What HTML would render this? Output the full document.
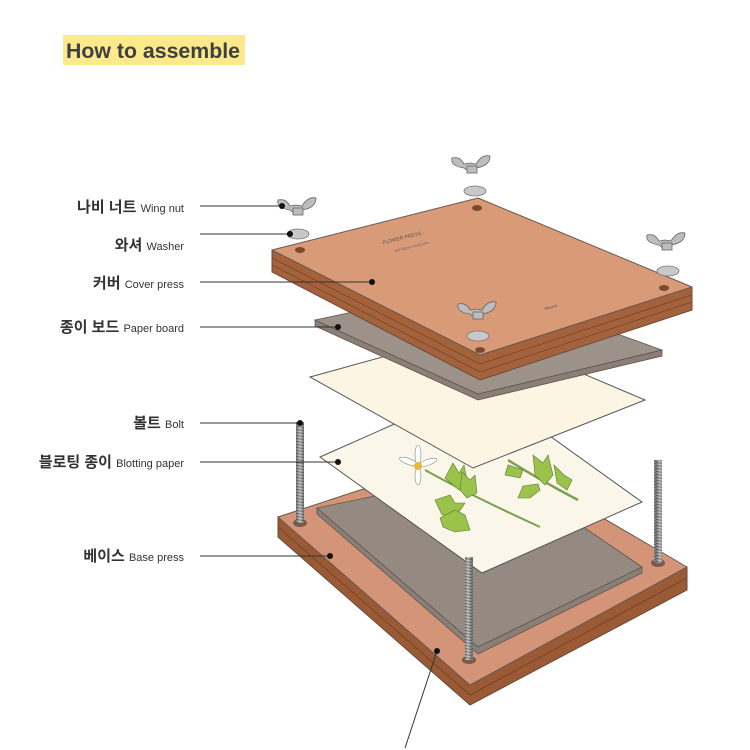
<!DOCTYPE html>
<html><head><meta charset="utf-8"><style>
html,body{margin:0;padding:0;background:#fff;}
body{width:750px;height:750px;overflow:hidden;position:relative;font-family:"Liberation Sans","Noto Sans CJK KR",sans-serif;}
</style></head><body>
<svg width="750" height="750" viewBox="0 0 750 750" xmlns="http://www.w3.org/2000/svg" style="position:absolute;left:0;top:0">
<defs>
<linearGradient id="bolt" x1="0" x2="1"><stop offset="0" stop-color="#6d6d6d"/><stop offset="0.5" stop-color="#d0d0d0"/><stop offset="1" stop-color="#6d6d6d"/></linearGradient>
<pattern id="thr" width="8" height="3" patternUnits="userSpaceOnUse"><rect width="8" height="3" fill="url(#bolt)"/><line x1="0" y1="0.5" x2="8" y2="1.5" stroke="#555" stroke-width="0.7"/></pattern>
</defs>
<!-- title -->
<rect x="63" y="35" width="182" height="30" fill="#fce98a"/>
<text x="66" y="58" font-size="21" font-weight="bold" fill="#404040" textLength="174" lengthAdjust="spacingAndGlyphs" font-family="Liberation Sans, sans-serif">How to assemble</text>

<!-- BASE -->
<polygon points="278,517 278,537 470,705 687,590 687,567 470,685" fill="#9a5a35" stroke="#6b4a3a" stroke-width="1"/>
<line x1="278" y1="527" x2="470" y2="695" stroke="#7a4426" stroke-width="1"/>
<line x1="470" y1="695" x2="687" y2="578" stroke="#7a4426" stroke-width="1"/>
<polygon points="278,517 360,490 495,455 687,567 470,685" fill="#d49478" stroke="#6b5a50" stroke-width="1" stroke-linejoin="round"/>
<!-- gray board in base -->
<polygon points="317,508 317,514 478,654 642,573 642,567 478,647" fill="#8a7e76" stroke="#5e5650" stroke-width="0.8"/>
<polygon points="317,508 500,470 642,567 478,647" fill="#958a82" stroke="#5e5650" stroke-width="0.8"/>
<!-- base bolt holes -->
<ellipse cx="300" cy="523" rx="7" ry="4" fill="#7a5a48"/>
<ellipse cx="658" cy="563" rx="7" ry="4" fill="#7a5a48"/>
<ellipse cx="469" cy="660" rx="7" ry="4" fill="#7a5a48"/>
<!-- back bolts -->
<rect x="296" y="422" width="8" height="101" fill="url(#thr)"/>
<rect x="654" y="460" width="8" height="103" fill="url(#thr)"/>

<!-- blotting paper -->
<polygon points="320,457 480,386 642,502 482,573" fill="#fbf6ea" stroke="#555" stroke-width="1"/>
<!-- flowers -->
<g stroke="#5a7a30" fill="#9bc24a" stroke-width="0.6">
<path d="M425,470 Q470,495 540,527" fill="none" stroke="#7aa050" stroke-width="2"/>
<path d="M445,478 l8,-15 l6,10 l5,-8 l3,15 l-8,10z"/>
<path d="M460,490 l2,-18 l8,8 l5,-5 l2,18 l-10,5z"/>
<path d="M435,500 l15,-5 l5,8 l10,0 l-8,12 l-15,0z"/>
<path d="M440,518 l15,-8 l10,5 l5,15 l-15,2 l-12,-5z"/>
<path d="M508,460 Q540,480 578,500" fill="none" stroke="#7aa050" stroke-width="2.5"/>
<path d="M535,475 l-2,-20 l10,8 l5,-8 l5,20 l-8,10z"/>
<path d="M520,478 l-15,-3 l3,-10 l15,5z"/>
<path d="M540,490 l-10,8 l-12,0 l5,-12 l15,-2z"/>
<path d="M557,483 l-3,-18 l10,10 l8,5 l-5,10z"/>
</g>
<g stroke="#888" fill="#fff" stroke-width="0.6">
<ellipse cx="408" cy="465" rx="10" ry="3" transform="rotate(20 418 466)"/>
<ellipse cx="428" cy="466" rx="10" ry="3" transform="rotate(-20 418 466)"/>
<ellipse cx="418" cy="455" rx="3" ry="10"/>
<ellipse cx="418" cy="476" rx="3" ry="9"/>
</g>
<circle cx="418" cy="466" r="4" fill="#e8b83a"/>

<!-- front bolt -->
<rect x="465" y="557" width="8" height="103" fill="url(#thr)"/>

<!-- cream paper -->
<polygon points="310,377 480,330 645,400 473,468" fill="#fcf5e4" stroke="#555" stroke-width="1"/>

<!-- paper board under cover -->
<polygon points="315,320 315,326 478,400 662,356 662,350 478,394" fill="#8a7e76" stroke="#5e5650" stroke-width="0.8"/>
<polygon points="315,320 480,285 662,350 478,394" fill="#9c928a" stroke="#5e5650" stroke-width="0.8"/>

<!-- COVER -->
<polygon points="272,250 272,272 480,380 692,310 692,287 480,355" fill="#a4623c" stroke="#6b4a3a" stroke-width="1"/>
<line x1="272" y1="258" x2="480" y2="364" stroke="#7a4426" stroke-width="0.8"/>
<line x1="272" y1="265" x2="480" y2="372" stroke="#7a4426" stroke-width="0.8"/>
<line x1="480" y1="364" x2="692" y2="295" stroke="#7a4426" stroke-width="0.8"/>
<line x1="480" y1="372" x2="692" y2="302" stroke="#7a4426" stroke-width="0.8"/>
<polygon points="272,250 478,198 692,287 480,355" fill="#d99a78" stroke="#6b5a50" stroke-width="1" stroke-linejoin="round"/>
<text x="380" y="245" font-size="5" fill="#555" transform="rotate(-14 380 245)">· FLOWER PRESS ·</text>
<text x="395" y="252" font-size="3.5" fill="#666" transform="rotate(-14 395 252)">with Mgree Handcrafts</text>
<text x="545" y="310" font-size="4" fill="#555" transform="rotate(-14 545 310)">Mounts</text>
<!-- holes -->
<ellipse cx="300" cy="250" rx="5" ry="3" fill="#7a4a30"/>
<ellipse cx="477" cy="208" rx="5" ry="3" fill="#7a4a30"/>
<ellipse cx="664" cy="288" rx="5" ry="3" fill="#7a4a30"/>
<ellipse cx="480" cy="350" rx="5" ry="3" fill="#7a4a30"/>

<!-- washers + wing nuts -->
<g fill="#c8c8c8" stroke="#777" stroke-width="0.8">
<ellipse cx="298" cy="234" rx="11" ry="5"/>
<ellipse cx="475" cy="191" rx="11" ry="5"/>
<ellipse cx="668" cy="271" rx="11" ry="5"/>
<ellipse cx="478" cy="336" rx="11" ry="5"/>
</g>
<g fill="#bdbdbd" stroke="#666" stroke-width="0.8">
<g transform="translate(298,208)"><path d="M-20,-8 q-2,8 12,10 l6,5 l6,-5 q14,-2 14,-12 q-8,-2 -14,8 l-6,-1 l-6,1 q-4,-8 -12,-6z"/><rect x="-5" y="0" width="10" height="7"/></g>
<g transform="translate(472,166)"><path d="M-20,-8 q-2,8 12,10 l6,5 l6,-5 q14,-2 14,-12 q-8,-2 -14,8 l-6,-1 l-6,1 q-4,-8 -12,-6z"/><rect x="-5" y="0" width="10" height="7"/></g>
<g transform="translate(667,243)"><path d="M-20,-8 q-2,8 12,10 l6,5 l6,-5 q14,-2 14,-12 q-8,-2 -14,8 l-6,-1 l-6,1 q-4,-8 -12,-6z"/><rect x="-5" y="0" width="10" height="7"/></g>
<g transform="translate(478,312)"><path d="M-20,-8 q-2,8 12,10 l6,5 l6,-5 q14,-2 14,-12 q-8,-2 -14,8 l-6,-1 l-6,1 q-4,-8 -12,-6z"/><rect x="-5" y="0" width="10" height="7"/></g>
</g>

<!-- leaders -->
<g stroke="#333" stroke-width="1">
<line x1="200" y1="206" x2="282" y2="206"/>
<line x1="200" y1="234" x2="290" y2="234"/>
<line x1="200" y1="282" x2="372" y2="282"/>
<line x1="200" y1="327" x2="338" y2="327"/>
<line x1="200" y1="423" x2="300" y2="423"/>
<line x1="200" y1="462" x2="338" y2="462"/>
<line x1="200" y1="556" x2="330" y2="556"/>
<line x1="437" y1="651" x2="405" y2="748"/>
</g>
<g fill="#111">
<circle cx="282" cy="206" r="3"/><circle cx="290" cy="234" r="3"/><circle cx="372" cy="282" r="3"/>
<circle cx="338" cy="327" r="3"/><circle cx="300" cy="423" r="3"/><circle cx="338" cy="462" r="3"/>
<circle cx="330" cy="556" r="3"/><circle cx="437" cy="651" r="3"/>
</g>

<!-- labels -->
<g fill="#333" text-anchor="end" font-family="Liberation Sans, Noto Sans CJK KR, sans-serif">
<text x="184" y="212"><tspan font-size="15" font-weight="bold">나비 너트 </tspan><tspan font-size="11">Wing nut</tspan></text>
<text x="184" y="250"><tspan font-size="15" font-weight="bold">와셔 </tspan><tspan font-size="11">Washer</tspan></text>
<text x="184" y="288"><tspan font-size="15" font-weight="bold">커버 </tspan><tspan font-size="11">Cover press</tspan></text>
<text x="184" y="332"><tspan font-size="15" font-weight="bold">종이 보드 </tspan><tspan font-size="11">Paper board</tspan></text>
<text x="184" y="428"><tspan font-size="15" font-weight="bold">볼트 </tspan><tspan font-size="11">Bolt</tspan></text>
<text x="184" y="467"><tspan font-size="15" font-weight="bold">블로팅 종이 </tspan><tspan font-size="11">Blotting paper</tspan></text>
<text x="184" y="561"><tspan font-size="15" font-weight="bold">베이스 </tspan><tspan font-size="11">Base press</tspan></text>
</g>
</svg>
</body></html>
